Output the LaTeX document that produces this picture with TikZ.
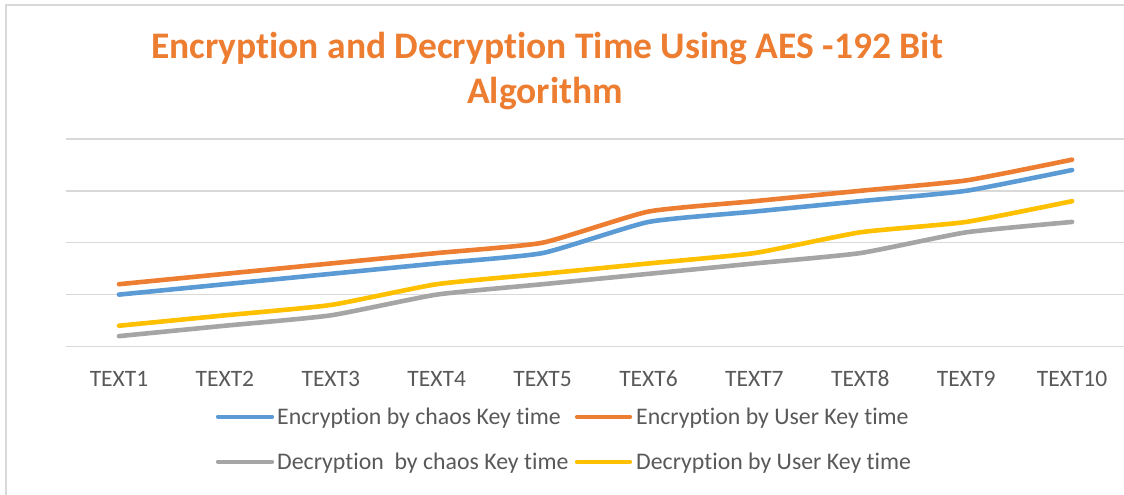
\documentclass[tikz,border=0pt]{standalone}
\usepackage{fontspec}
\setmainfont{Carlito}[Ligatures=NoCommon]
\definecolor{serA}{HTML}{5B9BD5}
\definecolor{serB}{HTML}{ED7D31}
\definecolor{serC}{HTML}{A5A5A5}
\definecolor{serD}{HTML}{FFC000}
\definecolor{gridc}{HTML}{D9D9D9}
\definecolor{labc}{HTML}{595959}
\begin{document}
\begin{tikzpicture}[x=1pt,y=1pt,
  gridline/.style={draw=gridc,line width=1.6pt},
  series/.style={line width=4.6pt,line cap=round,line join=round},
  keyline/.style={line width=4.2pt,line cap=round},
  catlabel/.style={font=\fontsize{23.5}{27}\selectfont,text=labc,inner sep=0pt,anchor=base},
  keylabel/.style={font=\fontsize{23.8}{27}\selectfont,text=labc,inner sep=0pt,anchor=base west},
  titlestyle/.style={font=\fontsize{37.5}{43}\selectfont\bfseries,text=serB,inner sep=0pt,anchor=base}]
\useasboundingbox (0,0) rectangle (1124,495);
\fill[white] (0,0) rectangle (1124,495);
% chart frame (top and left edges)
\draw[draw=gridc,line width=2pt] (6,0) -- (6,490) -- (1124,490);
% title
\node[titlestyle] (t1) at (547,436) {Encryption and Decryption Time Using AES -192 Bit};
\node[titlestyle] (t2) at (545,391) {Algorithm};
% horizontal grid, value v at y = 148.5 + 51.9 v
\foreach \v in {0,...,4}
  \draw[gridline] (66,148.5+51.9*\v) -- (1124,148.5+51.9*\v);
% category labels
\foreach \i in {1,...,10}
  \node[catlabel] (c\i) at (119+105.9*\i-105.9,108) {TEXT\i};
% data series
\newcommand{\px}[1]{119+105.9*#1-105.9}
\newcommand{\py}[1]{148.5+51.9*#1}
\draw[series,draw=serC] plot[smooth,tension=0.3] coordinates {
  ({\px{1}},{\py{0.2}}) ({\px{2}},{\py{0.4}}) ({\px{3}},{\py{0.6}}) ({\px{4}},{\py{1.0}}) ({\px{5}},{\py{1.2}})
  ({\px{6}},{\py{1.4}}) ({\px{7}},{\py{1.6}}) ({\px{8}},{\py{1.8}}) ({\px{9}},{\py{2.2}}) ({\px{10}},{\py{2.4}})};
\draw[series,draw=serD] plot[smooth,tension=0.3] coordinates {
  ({\px{1}},{\py{0.4}}) ({\px{2}},{\py{0.6}}) ({\px{3}},{\py{0.8}}) ({\px{4}},{\py{1.2}}) ({\px{5}},{\py{1.4}})
  ({\px{6}},{\py{1.6}}) ({\px{7}},{\py{1.8}}) ({\px{8}},{\py{2.2}}) ({\px{9}},{\py{2.4}}) ({\px{10}},{\py{2.8}})};
\draw[series,draw=serA] plot[smooth,tension=0.3] coordinates {
  ({\px{1}},{\py{1.0}}) ({\px{2}},{\py{1.2}}) ({\px{3}},{\py{1.4}}) ({\px{4}},{\py{1.6}}) ({\px{5}},{\py{1.8}})
  ({\px{6}},{\py{2.4}}) ({\px{7}},{\py{2.6}}) ({\px{8}},{\py{2.8}}) ({\px{9}},{\py{3.0}}) ({\px{10}},{\py{3.4}})};
\draw[series,draw=serB] plot[smooth,tension=0.3] coordinates {
  ({\px{1}},{\py{1.2}}) ({\px{2}},{\py{1.4}}) ({\px{3}},{\py{1.6}}) ({\px{4}},{\py{1.8}}) ({\px{5}},{\py{2.0}})
  ({\px{6}},{\py{2.6}}) ({\px{7}},{\py{2.8}}) ({\px{8}},{\py{3.0}}) ({\px{9}},{\py{3.2}}) ({\px{10}},{\py{3.6}})};
% legend
\draw[keyline,draw=serA] (218,78.3) -- (272,78.3);
\node[keylabel] (k1) at (277,70.6) {Encryption by chaos Key time};
\draw[keyline,draw=serB] (577,78.3) -- (630,78.3);
\node[keylabel] (k2) at (636,70.6) {Encryption by User Key time};
\draw[keyline,draw=serC] (218,33.3) -- (272,33.3);
\node[keylabel] (k3) at (277,25.6) {Decryption\ \ by chaos Key time};
\draw[keyline,draw=serD] (577,33.3) -- (630,33.3);
\node[keylabel] (k4) at (636,25.6) {Decryption by User Key time};
\end{tikzpicture}
\end{document}
